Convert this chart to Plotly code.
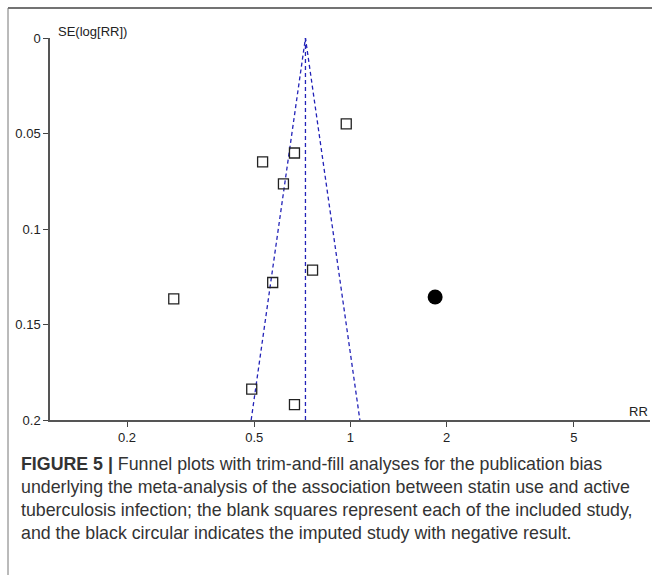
import plotly.graph_objects as go

# Included studies (open squares)
study_rr = [0.97, 0.668, 0.531, 0.617, 0.761, 0.571, 0.280, 0.491, 0.668]
study_se = [0.045, 0.0602, 0.0649, 0.0764, 0.1215, 0.128, 0.1366, 0.1838, 0.192]

# Imputed study (filled circle)
imputed_rr = [1.84]
imputed_se = [0.1356]

# Funnel (pseudo 95% limits) and pooled estimate
funnel_rr = [0.489, 0.723, 1.07]
funnel_se = [0.2, 0.0, 0.2]
pooled_rr = [0.723, 0.723]
pooled_se = [0.0, 0.2]

x_ticks = [0.2, 0.5, 1, 2, 5]
x_ticktext = ["0.2", "0.5", "1", "2", "5"]
y_ticks = [0, 0.05, 0.1, 0.15, 0.2]
y_ticktext = ["0", "0.05", "0.1", "0.15", "0.2"]

caption_lines = [
    "<b>FIGURE 5 |</b> Funnel plots with trim-and-fill analyses for the publication bias",
    "underlying the meta-analysis of the association between statin use and active",
    "tuberculosis infection; the blank squares represent each of the included study,",
    "and the black circular indicates the imputed study with negative result.",
]

W, H = 652, 575
L, R, T, B = 50, 2, 38, 155
plot_w = W - L - R
plot_h = H - T - B


def px_x(p):
    return (p - L) / plot_w


def px_y(p):
    return (H - B - p) / plot_h


blue = "#2323b8"
fig = go.Figure()
fig.add_trace(go.Scatter(x=funnel_rr, y=funnel_se, mode="lines",
                         line=dict(color=blue, width=1.3, dash="4px,3px"),
                         hoverinfo="skip", showlegend=False))
fig.add_trace(go.Scatter(x=pooled_rr, y=pooled_se, mode="lines",
                         line=dict(color=blue, width=1.3, dash="4px,3px"),
                         hoverinfo="skip", showlegend=False))
fig.add_trace(go.Scatter(x=study_rr, y=study_se, mode="markers",
                         marker=dict(symbol="square-open", size=10, color="#222",
                                     line=dict(width=1.3, color="#222")),
                         showlegend=False))
fig.add_trace(go.Scatter(x=imputed_rr, y=imputed_se, mode="markers",
                         marker=dict(symbol="circle", size=15, color="#000"),
                         showlegend=False))

axis_font = dict(family="Liberation Sans, Arial, sans-serif", size=13, color="#222")
fig.update_xaxes(type="log", range=[-0.94, 0.937], tickvals=x_ticks, ticktext=x_ticktext,
                 showline=True, linecolor="#555", linewidth=1.5, ticks="outside",
                 ticklen=5, tickcolor="#444", tickwidth=1.3, showgrid=False,
                 zeroline=False, tickfont=axis_font)
fig.update_yaxes(range=[0.2, 0], tickvals=y_ticks, ticktext=y_ticktext,
                 showline=True, linecolor="#555", linewidth=1.5, ticks="outside",
                 ticklen=5, tickcolor="#444", tickwidth=1.3, showgrid=False,
                 zeroline=False, tickfont=axis_font)

annotations = [
    dict(text="SE(log[RR])", xref="paper", yref="paper", x=px_x(56), y=px_y(31.5),
         xanchor="left", yanchor="middle", showarrow=False, font=axis_font),
    dict(text="RR", xref="paper", yref="paper", x=px_x(650), y=px_y(411),
         xanchor="right", yanchor="middle", showarrow=False, font=axis_font),
]
cap_font = dict(family="Liberation Sans, Arial, sans-serif", size=17.8, color="#333")
for i, line in enumerate(caption_lines):
    annotations.append(dict(text=line, xref="paper", yref="paper", x=px_x(19),
                            y=px_y(464 + 23 * i), xanchor="left", yanchor="middle",
                            showarrow=False, font=cap_font))

shapes = [
    dict(type="line", xref="paper", yref="paper", x0=px_x(8), x1=px_x(652),
         y0=px_y(8), y1=px_y(8), line=dict(color="#444", width=1.5), layer="above"),
    dict(type="line", xref="paper", yref="paper", x0=px_x(8), x1=px_x(8),
         y0=px_y(8), y1=px_y(576), line=dict(color="#777", width=1), layer="above"),
]

fig.update_layout(width=W, height=H, margin=dict(l=L, r=R, t=T, b=B),
                  paper_bgcolor="white", plot_bgcolor="white",
                  annotations=annotations, shapes=shapes)

fig.write_html("out.html", config={"displayModeBar": False},
               post_script="document.body.style.margin='0';document.body.style.padding='0';")
